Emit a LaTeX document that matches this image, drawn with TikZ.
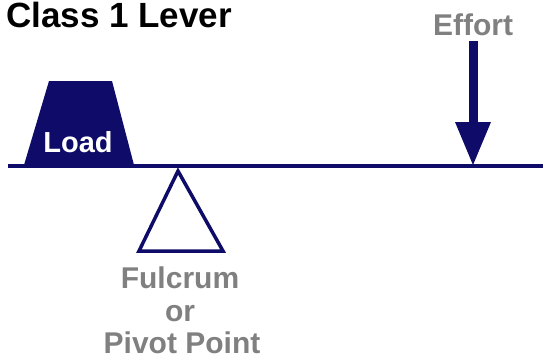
\documentclass[tikz,border=0pt]{standalone}
\usepackage{fontspec}
\setmainfont{Liberation Sans}
\definecolor{navy}{RGB}{14,12,104}
\definecolor{lbl}{RGB}{128,128,128}
\begin{document}
\begin{tikzpicture}[x=1pt,y=-1pt,
  txt/.style={inner sep=0pt,font=\bfseries\fontsize{30}{33}\selectfont},
  graytxt/.style={txt,text=lbl}]
\useasboundingbox (0,0) rectangle (543,362);
\node[txt,anchor=base west,font=\bfseries\fontsize{35}{38}\selectfont] (title) at (6,27) {Class 1 Lever};
% lever
\coordinate (lA) at (8,166);
\coordinate (lB) at (543,166);
\draw[navy,line width=4] (lA) -- (lB);
% load
\fill[navy] (24,165) -- (49,81) -- (112,81) -- (134,165) -- cycle;
\node[txt,text=white,anchor=base,font=\bfseries\fontsize{29}{32}\selectfont] (load) at (78,152) {Load};
% effort
\node[graytxt,anchor=base] (effort) at (473,35) {Effort};
\fill[navy] (468.5,41) rectangle (477.5,123);
\fill[navy] (455,122) -- (491,122) -- (473,165) -- cycle;
% fulcrum
\draw[navy,line width=3.5,line join=miter] (178,171) -- (223,251) -- (139,251) -- cycle;
\node[graytxt,anchor=base] (f1) at (180,288) {Fulcrum};
\node[graytxt,anchor=base] (f2) at (180,321) {or};
\node[graytxt,anchor=base] (f3) at (182,353) {Pivot Point};
\end{tikzpicture}
\end{document}
